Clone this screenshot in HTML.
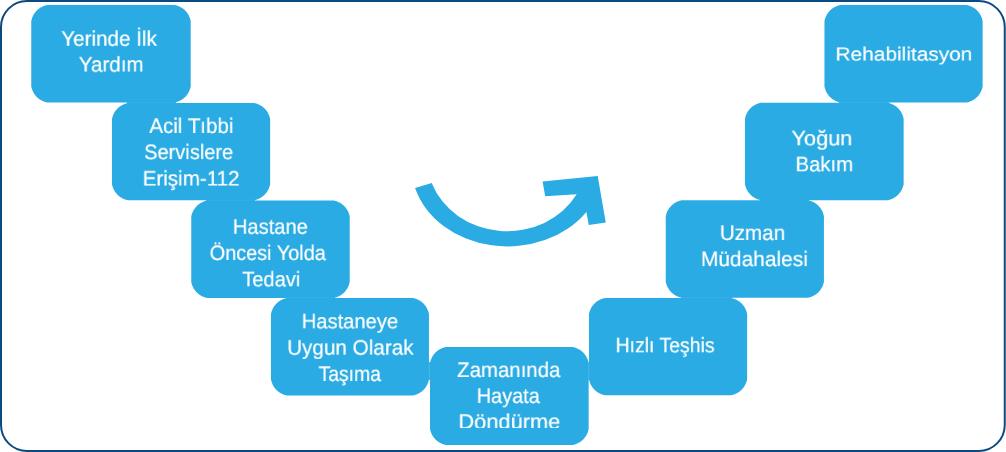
<!DOCTYPE html>
<html lang="tr">
<head>
<meta charset="utf-8">
<title>Hayat Zinciri</title>
<style>
html,body{margin:0;padding:0;background:#fff;}
body{width:1006px;height:452px;position:relative;overflow:hidden;}
.t{position:absolute;white-space:nowrap;color:#fff;font-family:"Liberation Sans", sans-serif;font-size:24px;line-height:30px;height:30px;transform-origin:0 0;will-change:transform;text-rendering:geometricPrecision;-webkit-text-stroke:0.229px #fff;}
.c{position:absolute;left:0;top:0;width:1006px;overflow:hidden;}
svg{position:absolute;left:0;top:0;}
</style>
</head>
<body>
<svg width="1006" height="452" viewBox="0 0 1006 452">
<rect x="1" y="1" width="1003.75" height="450" rx="26" ry="26" fill="#fff" stroke="#0a4a80" stroke-width="2"/>
<g fill="#2aabe3">
<path d="M47.26 4.98 H174.7 A20 20 0 0 1 190.7 20.98 V86.56 A20 20 0 0 1 174.7 102.56 H47.26 A20 20 0 0 1 31.26 86.56 V20.98 A20 20 0 0 1 47.26 4.98Z"/>
<path d="M127.96 103 H254.14 A20 20 0 0 1 270.14 119 V184.24 A20 20 0 0 1 254.14 200.24 H127.96 A20 20 0 0 1 111.96 184.24 V119 A20 20 0 0 1 127.96 103Z"/>
<path d="M207.26 200.55 H333.7 A20 20 0 0 1 349.7 216.55 V282 A20 20 0 0 1 333.7 298 H207.26 A20 20 0 0 1 191.26 282 V216.55 A20 20 0 0 1 207.26 200.55Z"/>
<path d="M286.96 298.1 H412.95 A20 20 0 0 1 428.95 314.1 V379.4 A20 20 0 0 1 412.95 395.4 H286.96 A20 20 0 0 1 270.96 379.4 V314.1 A20 20 0 0 1 286.96 298.1Z"/>
<path d="M446 346.98 H572.65 A20 20 0 0 1 588.65 362.98 V428.96 A20 20 0 0 1 572.65 444.96 H446 A20 20 0 0 1 430 428.96 V362.98 A20 20 0 0 1 446 346.98Z"/>
<path d="M604.96 297.98 H731.14 A20 20 0 0 1 747.14 313.98 V379.3 A20 20 0 0 1 731.14 395.3 H604.96 A20 20 0 0 1 588.96 379.3 V313.98 A20 20 0 0 1 604.96 297.98Z"/>
<path d="M681.76 200.18 H807.94 A20 20 0 0 1 823.94 216.18 V281.8 A20 20 0 0 1 807.94 297.8 H681.76 A20 20 0 0 1 665.76 281.8 V216.18 A20 20 0 0 1 681.76 200.18Z"/>
<path d="M760.96 102.78 H887.64 A20 20 0 0 1 903.64 118.78 V184.3 A20 20 0 0 1 887.64 200.3 H760.96 A20 20 0 0 1 744.96 184.3 V118.78 A20 20 0 0 1 760.96 102.78Z"/>
<path d="M840.46 4.98 H966.64 A20 20 0 0 1 982.64 20.98 V86.5 A20 20 0 0 1 966.64 102.5 H840.46 A20 20 0 0 1 824.46 86.5 V20.98 A20 20 0 0 1 840.46 4.98Z"/>
<rect x="127" y="101.8" width="49" height="1.8"/>
<rect x="206" y="199.3" width="49" height="1.8"/>
<rect x="286" y="296.8" width="49" height="1.8"/>
<rect x="428.4" y="362" width="2.2" height="18"/>
<rect x="588.1" y="362" width="1.4" height="18"/>
<rect x="681" y="296.8" width="51" height="1.8"/>
<rect x="760" y="199.3" width="49" height="1.8"/>
<rect x="839" y="101.5" width="50" height="1.8"/>
<path d="M415.1 188 L431.7 183 A80.23 73.53 0 0 0 576.7 194.3 L545.2 196.3 L542.6 181.4 L597.7 176 L605.75 222.5 L588.75 225 L586.4 211.9 A96.15 80.63 0 0 1 415.1 188 Z"/>
</g>
<rect x="126" y="102.2" width="51" height="1" fill="#fff" fill-opacity="0.06"/>
<rect x="205" y="199.7" width="51" height="1" fill="#fff" fill-opacity="0.06"/>
<rect x="285" y="297.2" width="51" height="1" fill="#fff" fill-opacity="0.06"/>
<rect x="429" y="361" width="1" height="20" fill="#fff" fill-opacity="0.12"/>
<rect x="588.2" y="361" width="1" height="20" fill="#fff" fill-opacity="0.1"/>
<rect x="680" y="297.2" width="53" height="1" fill="#fff" fill-opacity="0.06"/>
<rect x="759" y="199.5" width="51" height="1" fill="#fff" fill-opacity="0.06"/>
<rect x="838" y="101.9" width="52" height="1" fill="#fff" fill-opacity="0.06"/>
</svg>
<div class="t" style="left:61px;top:26px;transform:translate(0.23px,0.48px) scale(0.8597,0.8750)">Yerinde İlk</div>
<div class="t" style="left:78px;top:52px;transform:translate(0.73px,0.28px) scale(0.8590,0.8750)">Yardım</div>
<div class="t" style="left:149px;top:113px;transform:translate(0.32px,0.68px) scale(0.8562,0.8750)">Acil Tıbbi</div>
<div class="t" style="left:144px;top:139px;transform:translate(0.13px,0.88px) scale(0.8350,0.8750)">Servislere</div>
<div class="t" style="left:142px;top:166px;transform:translate(0.68px,0.28px) scale(0.8577,0.8750)">Erişim-112</div>
<div class="t" style="left:232px;top:214px;transform:translate(0.81px,0.48px) scale(0.8397,0.8750)">Hastane</div>
<div class="t" style="left:209px;top:240px;transform:translate(0.67px,0.78px) scale(0.8288,0.8750)">Öncesi Yolda</div>
<div class="t" style="left:242px;top:267px;transform:translate(0.24px,0.08px) scale(0.8376,0.8750)">Tedavi</div>
<div class="t" style="left:301px;top:309px;transform:translate(0.75px,0.08px) scale(0.8392,0.8750)">Hastaneye</div>
<div class="t" style="left:287px;top:335px;transform:translate(0.14px,0.38px) scale(0.8611,0.8750)">Uygun Olarak</div>
<div class="t" style="left:318px;top:361px;transform:translate(0.60px,0.68px) scale(0.8058,0.8750)">Taşıma</div>
<div class="t" style="left:457px;top:357px;transform:translate(0.14px,0.68px) scale(0.8502,0.8750)">Zamanında</div>
<div class="t" style="left:476px;top:383px;transform:translate(0.73px,0.68px) scale(0.8281,0.8750)">Hayata</div>
<div class="c" style="height:427.6px"><div class="t" style="left:458px;top:409px;transform:translate(0.40px,0.48px) scale(0.9086,0.8750)">Döndürme</div></div>
<div class="t" style="left:615px;top:333px;transform:translate(0.58px,0.08px) scale(0.8097,0.8750)">Hızlı Teşhis</div>
<div class="t" style="left:719px;top:220px;transform:translate(0.81px,0.68px) scale(0.8591,0.8750)">Uzman</div>
<div class="t" style="left:700px;top:246px;transform:translate(0.94px,0.88px) scale(0.8705,0.8750)">Müdahalesi</div>
<div class="t" style="left:791px;top:126px;transform:translate(0.48px,0.08px) scale(0.9056,0.8750)">Yoğun</div>
<div class="t" style="left:795px;top:152px;transform:translate(0.50px,0.08px) scale(0.8478,0.8750)">Bakım</div>
<div class="t" style="left:835px;top:43px;transform:translate(0.45px,0.10px) scale(0.8697,0.7917);-webkit-text-stroke-width:0.189px">Rehabilitasyon</div>
</body>
</html>
